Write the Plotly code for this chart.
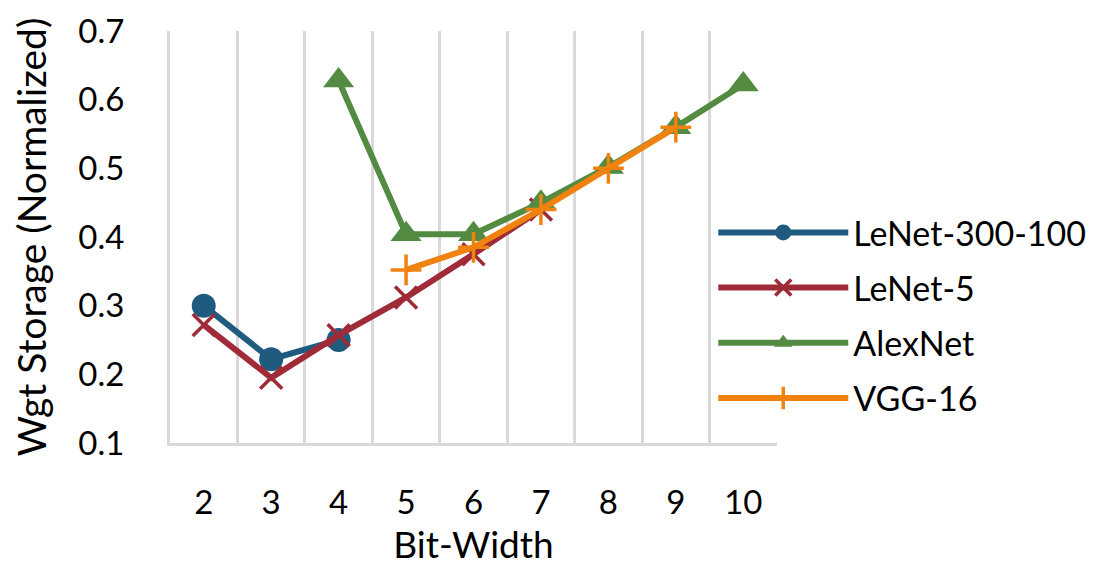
import plotly.graph_objects as go

bit_width = [2, 3, 4, 5, 6, 7, 8, 9, 10]

lenet300_x = [2, 3, 4]
lenet300_y = [0.30, 0.222, 0.25]

lenet5_x = [2, 3, 4, 5, 6, 7]
lenet5_y = [0.272, 0.195, 0.257, 0.312, 0.375, 0.44]

alexnet_x = [4, 5, 6, 7, 8, 9, 10]
alexnet_y = [0.628, 0.404, 0.404, 0.45, 0.502, 0.56, 0.622]

vgg_x = [5, 6, 7, 8, 9]
vgg_y = [0.352, 0.385, 0.44, 0.50, 0.56]

FONT = "Lato"
fig = go.Figure()

fig.add_trace(go.Scatter(x=lenet300_x, y=lenet300_y, name="LeNet-300-100", mode="lines+markers",
                         legendgroup="a",
                         line=dict(color="#1F5B7E", width=6),
                         marker=dict(symbol="circle", size=24, color="#1F5B7E")))
fig.add_trace(go.Scatter(x=lenet5_x, y=lenet5_y, name="LeNet-5", mode="lines+markers",
                         legendgroup="b",
                         line=dict(color="#A02B38", width=6),
                         marker=dict(symbol="x-thin-open", size=22, color="#A02B38",
                                     line=dict(color="#A02B38", width=3.5))))
fig.add_trace(go.Scatter(x=alexnet_x, y=alexnet_y, name="AlexNet", mode="lines+markers",
                         legendgroup="c",
                         line=dict(color="#548B42", width=6),
                         marker=dict(symbol="triangle-up", size=27, color="#548B42")))
fig.add_trace(go.Scatter(x=vgg_x, y=vgg_y, name="VGG-16", mode="lines+markers",
                         legendgroup="d",
                         line=dict(color="#F0820F", width=6),
                         marker=dict(symbol="cross-thin-open", size=22, color="#F0820F",
                                     line=dict(color="#F0820F", width=3.5))))

fig.update_layout(
    width=1110, height=566,
    margin=dict(l=162, r=341, t=23, b=131, autoexpand=False),
    paper_bgcolor="white", plot_bgcolor="white",
    font=dict(family=FONT, size=33, color="black"),
    showlegend=True,
    legend=dict(x=0.895, y=0.31, xanchor="left", yanchor="middle",
                bgcolor="rgba(0,0,0,0)", font=dict(size=34, family=FONT),
                itemwidth=130, tracegroupgap=8),
    xaxis=dict(
        range=[1.5, 10.5], tickmode="array", tickvals=bit_width,
        ticktext=[str(v) for v in bit_width],
        showgrid=False, zeroline=False,
        showline=True, linecolor="#D9D9D9", linewidth=3,
        ticks="", ticklabelstandoff=28,
        minor=dict(tick0=1.5, dtick=1, showgrid=True, gridcolor="#D9D9D9", gridwidth=3),
        title=dict(text="Bit-Width", font=dict(size=37, family=FONT), standoff=12),
    ),
    yaxis=dict(
        range=[0.1, 0.7], tickmode="array", tickvals=[0.1, 0.2, 0.3, 0.4, 0.5, 0.6, 0.7],
        tickformat=".1f", showgrid=False, zeroline=False,
        showline=True, linecolor="#D9D9D9", linewidth=3,
        ticks="", ticklabelstandoff=36, ticklabeloverflow="allow",
        title=dict(text="Wgt Storage (Normalized)", font=dict(size=39, family=FONT), standoff=24),
    ),
)

fig.write_html("out.html")
